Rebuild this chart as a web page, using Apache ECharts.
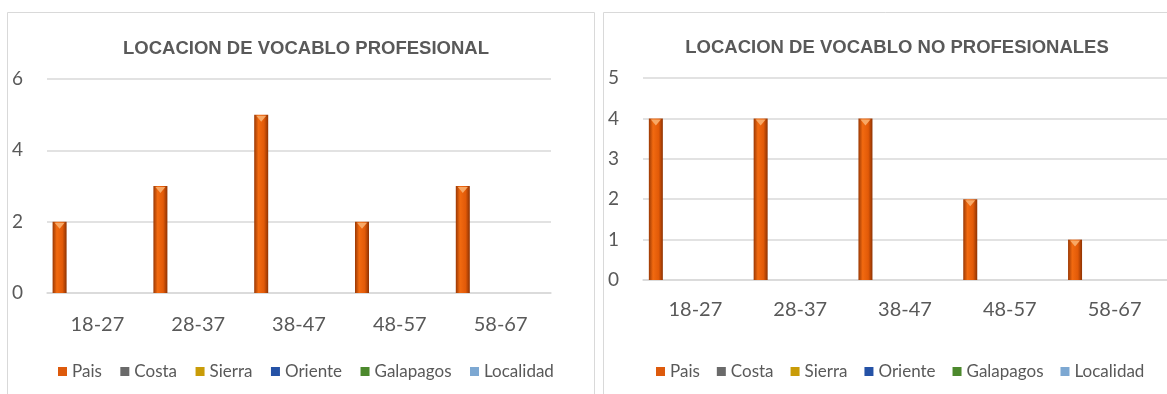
<!DOCTYPE html>
<html>
<head>
<meta charset="utf-8">
<script src="https://cdn.jsdelivr.net/npm/echarts@6/dist/echarts.min.js"></script>
<style>
html,body{margin:0;padding:0;background:#fff;}
#c{width:1167px;height:394px;}
</style>
</head>
<body>
<div id="c"></div>
<script>
// ---- data ----
const categories = ['18-27', '28-37', '38-47', '48-57', '58-67'];
const seriesNames = ['Pais', 'Costa', 'Sierra', 'Oriente', 'Galapagos', 'Localidad'];
const titleLeft = 'LOCACION DE VOCABLO PROFESIONAL';
const titleRight = 'LOCACION DE VOCABLO NO PROFESIONALES';
// Left chart (profesional)
const profPais = [2, 3, 5, 2, 3];
const profCosta = [0, 0, 0, 0, 0];
const profSierra = [0, 0, 0, 0, 0];
const profOriente = [0, 0, 0, 0, 0];
const profGalapagos = [0, 0, 0, 0, 0];
const profLocalidad = [0, 0, 0, 0, 0];
// Right chart (no profesionales)
const noProfPais = [4, 4, 4, 2, 1];
const noProfCosta = [0, 0, 0, 0, 0];
const noProfSierra = [0, 0, 0, 0, 0];
const noProfOriente = [0, 0, 0, 0, 0];
const noProfGalapagos = [0, 0, 0, 0, 0];
const noProfLocalidad = [0, 0, 0, 0, 0];
const leftTicks = { min: 0, max: 6, interval: 2 };
const rightTicks = { min: 0, max: 5, interval: 1 };

// ---- styling ----
function grad(a, b, c, d) {
  return new echarts.graphic.LinearGradient(0, 0, 1, 0, [
    { offset: 0, color: a }, { offset: 0.3, color: b },
    { offset: 0.7, color: c }, { offset: 1, color: d }
  ]);
}
const colors = [
  grad('#9A3804', '#F26A10', '#E25A08', '#8E3202'),
  grad('#444444', '#8A8A8A', '#777777', '#3E3E3E'),
  grad('#9C7A00', '#E3B812', '#CDA106', '#8C6D00'),
  grad('#173F86', '#3467C4', '#2A59AE', '#14377A'),
  grad('#36691D', '#5E9D3A', '#4F8A2E', '#305E19'),
  grad('#5C88B4', '#9CC2E6', '#86AED6', '#557FAA')
];
const legendColors = ['#DD5A0C', '#6A6A6A', '#C99C08', '#2552A6', '#4C892D', '#7DA8D2'];
const txt = '#595959';
const grid = '#D9D9D9';

const leftData = [profPais, profCosta, profSierra, profOriente, profGalapagos, profLocalidad];
const rightData = [noProfPais, noProfCosta, noProfSierra, noProfOriente, noProfGalapagos, noProfLocalidad];

function makeSeries(dataSets, axisIdx, gap) {
  return dataSets.map((vals, k) => {
    const s = {
      name: seriesNames[k],
      type: 'bar',
      xAxisIndex: axisIdx,
      yAxisIndex: axisIdx,
      data: vals,
      barWidth: 14,
      barGap: gap,
      itemStyle: { color: colors[k] },
      emphasis: { disabled: true },
      animation: false
    };
    if (k === 0) {
      s.markPoint = {
        symbol: 'triangle',
        symbolRotate: 180,
        symbolSize: [10, 6],
        symbolOffset: [0, 4],
        itemStyle: { color: '#F8A865' },
        label: { show: false },
        silent: true,
        animation: false,
        data: vals.map((v, i) => ({ coord: [i, v] }))
      };
    }
    return s;
  });
}

function xAxis(gridIndex, margin) {
  return {
    type: 'category',
    gridIndex: gridIndex,
    data: categories,
    axisLine: { lineStyle: { color: grid, width: 1.5 } },
    axisTick: { show: false },
    axisLabel: { color: txt, fontFamily: 'Lato', fontSize: 20, margin: margin }
  };
}
function yAxis(gridIndex, t) {
  return {
    type: 'value',
    gridIndex: gridIndex,
    min: t.min, max: t.max, interval: t.interval,
    axisLine: { show: false },
    axisTick: { show: false },
    splitLine: { lineStyle: { color: grid, width: 1.5 } },
    axisLabel: { color: txt, fontFamily: 'Lato', fontSize: 19, margin: 24 }
  };
}
function legend(left, gap) {
  return {
    data: seriesNames.map((n, k) => ({ name: n, itemStyle: { color: legendColors[k] } })),
    left: left,
    top: 'auto',
    bottom: 9,
    itemWidth: 9,
    itemHeight: 9,
    itemGap: gap,
    icon: 'rect',
    selectedMode: false,
    textStyle: { color: txt, fontFamily: 'Lato', fontSize: 17 }
  };
}

const chart = echarts.init(document.getElementById('c'), null, { renderer: 'canvas' });
chart.setOption({
  animation: false,
  backgroundColor: '#ffffff',
  title: [
    { text: titleLeft, left: 301, top: 44, textAlign: 'center', textVerticalAlign: 'middle',
      textStyle: { color: txt, fontFamily: 'Liberation Sans', fontWeight: 'bold', fontSize: 18.5 } },
    { text: titleRight, left: 892, top: 43, textAlign: 'center', textVerticalAlign: 'middle',
      textStyle: { color: txt, fontFamily: 'Liberation Sans', fontWeight: 'bold', fontSize: 18.5 } }
  ],
  legend: [legend(53, 18.5), legend(651, 17)],
  grid: [
    { left: 47, right: 616, top: 79, bottom: 101, containLabel: false },
    { left: 643, right: 0, top: 78, bottom: 114, containLabel: false }
  ],
  xAxis: [xAxis(0, 22), xAxis(1, 20)],
  yAxis: [yAxis(0, leftTicks), yAxis(1, rightTicks)],
  graphic: [
    { type: 'rect', silent: true, z: -1, shape: { x: 7.5, y: 12.5, width: 587, height: 420 },
      style: { fill: 'none', stroke: '#D9D9D9', lineWidth: 1 } },
    { type: 'rect', silent: true, z: -1, shape: { x: 603.5, y: 12.5, width: 620, height: 420 },
      style: { fill: 'none', stroke: '#D9D9D9', lineWidth: 1 } }
  ],
  series: makeSeries(leftData, 0, '8%').concat(makeSeries(rightData, 1, '13%'))
});
</script>
</body>
</html>
